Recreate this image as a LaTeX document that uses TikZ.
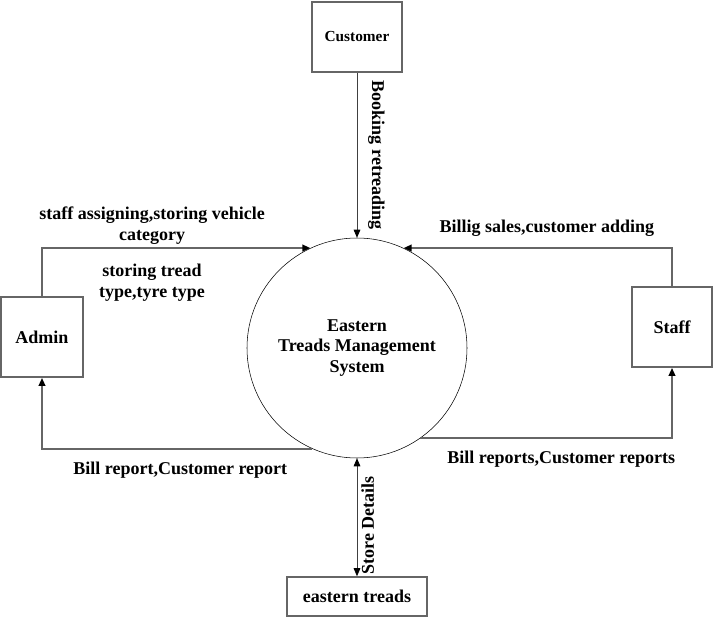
\documentclass[tikz,border=0pt]{standalone}
\usepackage{fontspec}
\setmainfont{Liberation Serif}
\usetikzlibrary{positioning,arrows.meta}

\tikzset{
  entity/.style={draw=black!60, line width=1.4pt, fill=white, inner sep=0pt, font=\fontsize{13.5}{16}\selectfont\bfseries},
  process/.style={draw, circle, thin, minimum size=165pt, inner sep=0pt, align=center, font=\fontsize{13.5}{15.4}\selectfont\bfseries},
  flow/.style={draw=black!60, line width=1.4pt, -{Triangle[length=6pt,width=5pt,color=black]}},
  thinflow/.style={draw=black!75, line width=0.6pt, -{Triangle[length=6pt,width=5pt,color=black]}},
  lbl/.style={font=\fontsize{13.5}{15.8}\selectfont\bfseries, align=center, inner sep=2pt}
}

\begin{document}
\begin{tikzpicture}[x=0.75pt,y=-0.75pt,node distance=2cm,on grid,auto]
			\useasboundingbox (0,0) rectangle (724,620);
			\node[process] (sys) at (357,348) {Eastern\\Treads Management\\System};
			\node[entity, minimum width=67.5pt, minimum height=52.5pt, font=\fontsize{11.5}{14}\selectfont\bfseries] (cust) at (357,37) {Customer};
			\node[entity, minimum width=61.5pt, minimum height=60pt] (adm) at (42,337) {Admin};
			\node[entity, minimum width=60pt, minimum height=60pt] (stf) at (672,327) {Staff};
			\node[entity, minimum width=105pt, minimum height=29.25pt] (store) [below=186.5pt of sys] {eastern treads};
			\draw[thinflow] (cust) -- node [lbl, midway, rotate=-90, anchor=south, inner sep=8pt] {Booking retreading} (sys);
			\draw[thinflow, {Triangle[length=6pt,width=5pt,color=black]}-{Triangle[length=6pt,width=5pt,color=black]}]
			(sys) -- node [lbl, pos=0.57, rotate=90, anchor=north, inner sep=3pt] {Store Details} (store);
			\draw[flow] (adm.north) |- node [lbl, pos=0.705, above] {staff assigning,storing vehicle\\category}
			node [lbl, pos=0.705, below, yshift=-9pt] {storing tread\\type,tyre type} (sys.115);
			\draw[flow] (stf.north) |- node [lbl, pos=0.733, above, yshift=6pt] {Billig sales,customer adding} (sys.65);
			\draw[flow] (sys.-114) -| node [lbl, pos=0.244, below, yshift=-7pt] {Bill report,Customer report} (adm.south);
			\draw[flow] (sys.-55) -| node [lbl, pos=0.28, below, yshift=-7pt] {Bill reports,Customer reports} (stf.south);
		\end{tikzpicture}
\end{document}
